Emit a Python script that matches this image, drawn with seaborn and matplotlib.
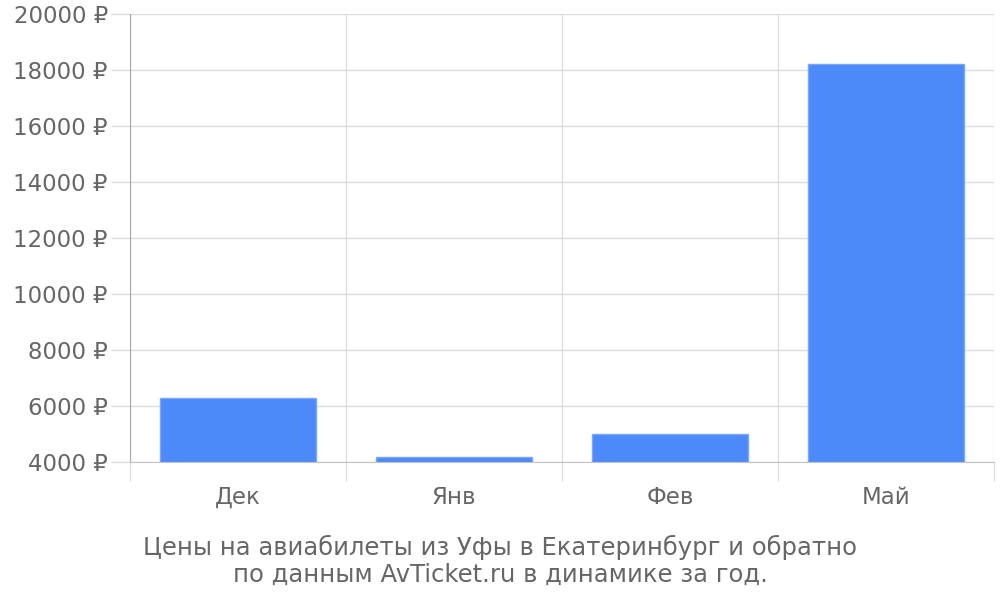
import numpy as np
import pandas as pd
import matplotlib
matplotlib.use("Agg")
import matplotlib.pyplot as plt
import seaborn as sns

months = ["Дек", "Янв", "Фев", "Май"]
prices = [6280, 4180, 4990, 18210]
y_ticks = list(range(4000, 20001, 2000))
caption = "Цены на авиабилеты из Уфы в Екатеринбург и обратно\nпо данным AvTicket.ru в динамике за год."

df = pd.DataFrame({"month": months, "price": prices})

sns.set_style("white")
plt.rcParams["font.sans-serif"] = ["DejaVu Sans"]
plt.rcParams["font.family"] = ["DejaVu Sans"]

text_color = "#666666"
grid_color = "#dddddd"

fig = plt.figure(figsize=(10, 6), dpi=100)
ax = fig.add_axes([0.13, 0.23, 0.864, 0.7467])

sns.barplot(data=df, x="month", y="price", color="#4d8af9", width=0.72,
            saturation=1, edgecolor="#7aa7fb", linewidth=1, ax=ax, zorder=3)

ax.set_ylim(4000, 20000)
ax.set_xlim(-0.5, len(months) - 0.5)
ax.set_yticks(y_ticks)
ax.set_yticklabels([f"{v} ₽" for v in y_ticks])
ax.set_xticks(range(len(months)))
ax.set_xticklabels(months)
ax.set_xlabel("")
ax.set_ylabel("")

# category boundaries as minor ticks with grid
ax.set_xticks(np.arange(-0.5, len(months)), minor=True)
ax.grid(True, which="minor", axis="x", color=grid_color, linewidth=1, zorder=0)
ax.grid(True, which="major", axis="y", color=grid_color, linewidth=1, zorder=0)
ax.tick_params(axis="x", which="both", bottom=True)
ax.tick_params(axis="x", which="major", length=0, pad=17, labelsize=16.5, labelcolor=text_color)
ax.tick_params(axis="x", which="minor", length=13.5, width=1, color=grid_color, direction="out")
ax.tick_params(axis="y", left=True, length=14, width=1, color=grid_color, pad=2,
               labelsize=16.5, labelcolor=text_color)
ax.xaxis.get_minorticklines()[0].set_color("#aaaaaa")

for side in ["top", "right"]:
    ax.spines[side].set_visible(False)
ax.spines["left"].set_color("#aaaaaa")
ax.spines["bottom"].set_color("#c4c4c4")
ax.spines["left"].set_zorder(4)
ax.spines["bottom"].set_zorder(4)

fig.text(0.5, 0.022, caption, ha="center", va="bottom", fontsize=17.5,
         color=text_color, linespacing=1.15)

fig.savefig("out.png", dpi=100)
